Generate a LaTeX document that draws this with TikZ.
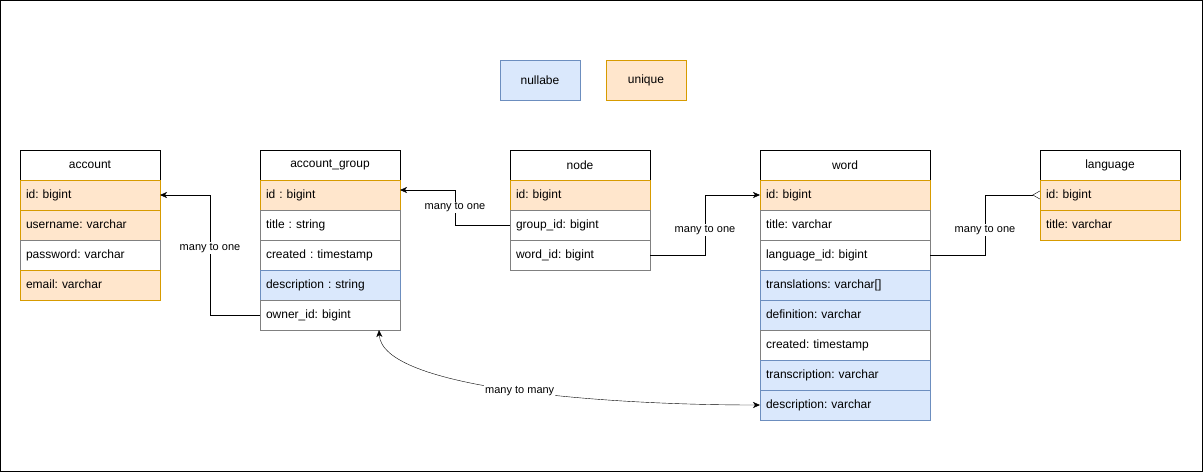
\documentclass[tikz,border=0pt]{standalone}
\usepackage{fontspec}
\setmainfont{Liberation Sans}
\usetikzlibrary{positioning,arrows.meta}
\frenchspacing

\definecolor{keyfill}{HTML}{FFE6CC}
\definecolor{keyline}{HTML}{D79B00}
\definecolor{nullfill}{HTML}{DAE8FC}
\definecolor{nullline}{HTML}{6C8EBF}
\definecolor{rowline}{HTML}{808080}

\tikzset{
  tablehead/.style={draw=black, fill=white, minimum width=#1, minimum height=30pt,
    inner sep=0pt, outer sep=0pt, anchor=north west, font=\fontsize{12}{14}\selectfont},
  tablehead/.default=140pt,
  field/.style={draw=rowline, fill=white, text width=#1, inner xsep=6pt, inner ysep=0pt,
    minimum height=30pt, outer sep=0pt, align=left, text height=9.5pt, text depth=2.5pt,
    font=\fontsize{12}{14}\selectfont},
  field/.default=128pt,
  keyfield/.style={field=#1, fill=keyfill, draw=keyline},
  keyfield/.default=128pt,
  nullfield/.style={field=#1, fill=nullfill, draw=nullline},
  nullfield/.default=128pt,
  legendbox/.style={minimum width=80pt, minimum height=40pt, inner sep=0pt,
    font=\fontsize{12}{14}\selectfont},
  fk/.style={draw=black, -{Stealth[length=7pt,width=6pt,inset=2pt]}},
  lbl/.style={fill=white, inner sep=1pt, font=\fontsize{11}{13}\selectfont}
}

\begin{document}
\begin{tikzpicture}[x=1pt,y=-1pt]
  \useasboundingbox (0,0) rectangle (1203,472);
  \draw[black] (0.5,0.5) rectangle (1202.5,471);

  % legend
  \node[legendbox, fill=nullfill, draw=nullline] (nullbox) at (540,80) {nullabe};
  \node[legendbox, fill=keyfill, draw=keyline] (keybox) at (646,80) {unique};

  % account
  \node[tablehead] (acc) at (20,150) {account};
  \node[keyfield, below=0pt of acc] (acc-id) {id: bigint};
  \node[keyfield, below=0pt of acc-id] (acc-user) {username: varchar};
  \node[field, below=0pt of acc-user] (acc-pass) {password: varchar};
  \node[keyfield, below=0pt of acc-pass] (acc-mail) {email: varchar};

  % account_group
  \node[tablehead] (grp) at (260,150) {account\_group};
  \node[keyfield, below=0pt of grp] (grp-id) {id : bigint};
  \node[field, below=0pt of grp-id] (grp-title) {title : string};
  \node[field, below=0pt of grp-title] (grp-created) {created : timestamp};
  \node[nullfield, below=0pt of grp-created] (grp-desc) {description : string};
  \node[field, below=0pt of grp-desc] (grp-owner) {owner\_id: bigint};

  % node
  \node[tablehead] (nd) at (510,150) {node};
  \node[keyfield, below=0pt of nd] (nd-id) {id: bigint};
  \node[field, below=0pt of nd-id] (nd-group) {group\_id: bigint};
  \node[field, below=0pt of nd-group] (nd-word) {word\_id: bigint};

  % word
  \node[tablehead=170pt] (wd) at (760,150) {word};
  \node[keyfield=158pt, below=0pt of wd] (wd-id) {id: bigint};
  \node[field=158pt, below=0pt of wd-id] (wd-title) {title: varchar};
  \node[field=158pt, below=0pt of wd-title] (wd-lang) {language\_id: bigint};
  \node[nullfield=158pt, below=0pt of wd-lang] (wd-trans) {translations: varchar[]};
  \node[nullfield=158pt, below=0pt of wd-trans] (wd-def) {definition: varchar};
  \node[field=158pt, below=0pt of wd-def] (wd-created) {created: timestamp};
  \node[nullfield=158pt, below=0pt of wd-created] (wd-transc) {transcription: varchar};
  \node[nullfield=158pt, below=0pt of wd-transc] (wd-desc) {description: varchar};

  % language
  \node[tablehead] (lang) at (1040,150) {language};
  \node[keyfield, below=0pt of lang] (lang-id) {id: bigint};
  \node[keyfield, below=0pt of lang-id] (lang-title) {title: varchar};

  % relations
  \draw[fk] (grp-owner.west) -- ++(-50,0) |- (acc-id.east)
    node[lbl, pos=0.28] {many to one};
  \draw[fk] (nd-group.west) -- ++(-55,0) |- ([yshift=5pt]grp-id.east)
    node[lbl, pos=0.25] {many to one};
  \draw[fk] (nd-word.east) -- ++(55,0) |- (wd-id.west)
    node[lbl, pos=0.21] {many to one};
  \draw[-{Straight Barb[reversed,length=7pt,width=8pt]}] (wd-lang.east) -- ++(55,0) |- (lang-id.west)
    node[lbl, pos=0.21] {many to one};
  \draw[{Stealth[length=7pt,width=6pt,inset=2pt]}-{Stealth[length=7pt,width=6pt,inset=2pt]}]
    ([xshift=49pt]grp-owner.south) .. controls +(3,58) and +(-160,0) .. (wd-desc.west)
    node[lbl, pos=0.52] {many to many};
\end{tikzpicture}
\end{document}
